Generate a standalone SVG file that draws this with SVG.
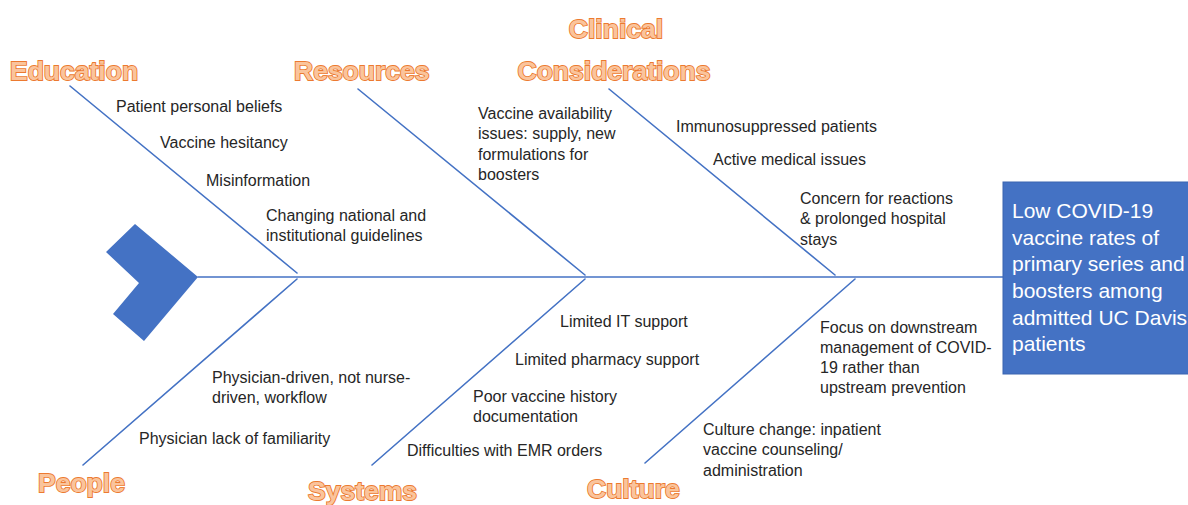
<svg xmlns="http://www.w3.org/2000/svg" width="1188" height="505" viewBox="0 0 1188 505">
<style>
.bone{stroke:#4472C4;stroke-width:1.6;fill:none;stroke-linecap:round}
.cat{font-family:"Liberation Sans",Arial,sans-serif;font-weight:bold;font-size:26.5px;fill:#FAC49C;stroke:#EC7A30;stroke-width:1.8;paint-order:stroke}
.item{font-family:"Liberation Sans",Arial,sans-serif;font-size:16px;fill:#262626}
.head{font-family:"Liberation Sans",Arial,sans-serif;font-size:21px;fill:#FFFFFF}
</style>
<rect width="1188" height="505" fill="#FFFFFF"/>
<g id="tail">
<polygon points="135,224 198,277 144,341 113,314 139,283 106,252" fill="#4472C4"/>
</g>
<g id="connectors">
<line class="bone" x1="198" y1="277" x2="1003" y2="277"/>
<line class="bone" x1="70" y1="86" x2="297" y2="273"/>
<line class="bone" x1="358" y1="89" x2="585" y2="275"/>
<line class="bone" x1="609" y1="89" x2="835" y2="275"/>
<line class="bone" x1="297" y1="279" x2="83" y2="465"/>
<line class="bone" x1="585" y1="279" x2="372" y2="465"/>
<line class="bone" x1="855" y1="279" x2="645" y2="463"/>
</g>
<g id="head">
<rect x="1003" y="182" width="190" height="192" fill="#4472C4" stroke="#3A64B0" stroke-width="1"/>
<text class="head" x="1012" y="218">Low COVID-19</text>
<text class="head" x="1012" y="245">vaccine rates of</text>
<text class="head" x="1012" y="271">primary series and</text>
<text class="head" x="1012" y="298">boosters among</text>
<text class="head" x="1012" y="325">admitted UC Davis</text>
<text class="head" x="1012" y="351">patients</text>
</g>
<g id="education">
<text class="cat" x="10" y="80">Education</text>
<text class="item" x="116" y="112">Patient personal beliefs</text>
<text class="item" x="160" y="148">Vaccine hesitancy</text>
<text class="item" x="206" y="186">Misinformation</text>
<text class="item" x="266" y="221">Changing national and</text>
<text class="item" x="266" y="241">institutional guidelines</text>
</g>
<g id="resources">
<text class="cat" x="294" y="80">Resources</text>
<text class="item" x="478" y="119">Vaccine availability</text>
<text class="item" x="478" y="139">issues: supply, new</text>
<text class="item" x="478" y="160">formulations for</text>
<text class="item" x="478" y="180">boosters</text>
</g>
<g id="clinical">
<text class="cat" x="616" y="38" text-anchor="middle">Clinical</text>
<text class="cat" x="614" y="80" text-anchor="middle">Considerations</text>
<text class="item" x="676" y="132">Immunosuppressed patients</text>
<text class="item" x="713" y="165">Active medical issues</text>
<text class="item" x="800" y="204">Concern for reactions</text>
<text class="item" x="800" y="224">&amp; prolonged hospital</text>
<text class="item" x="800" y="245">stays</text>
</g>
<g id="people">
<text class="cat" x="38" y="492">People</text>
<text class="item" x="212" y="383">Physician-driven, not nurse-</text>
<text class="item" x="212" y="403">driven, workflow</text>
<text class="item" x="139" y="444">Physician lack of familiarity</text>
</g>
<g id="systems">
<text class="cat" x="308" y="500">Systems</text>
<text class="item" x="560" y="327">Limited IT support</text>
<text class="item" x="515" y="365">Limited pharmacy support</text>
<text class="item" x="473" y="402">Poor vaccine history</text>
<text class="item" x="473" y="422">documentation</text>
<text class="item" x="407" y="456">Difficulties with EMR orders</text>
</g>
<g id="culture">
<text class="cat" x="587" y="498">Culture</text>
<text class="item" x="820" y="333">Focus on downstream</text>
<text class="item" x="820" y="353">management of COVID-</text>
<text class="item" x="820" y="373">19 rather than</text>
<text class="item" x="820" y="393">upstream prevention</text>
<text class="item" x="703" y="435">Culture change: inpatient</text>
<text class="item" x="703" y="455">vaccine counseling/</text>
<text class="item" x="703" y="476">administration</text>
</g>
</svg>
